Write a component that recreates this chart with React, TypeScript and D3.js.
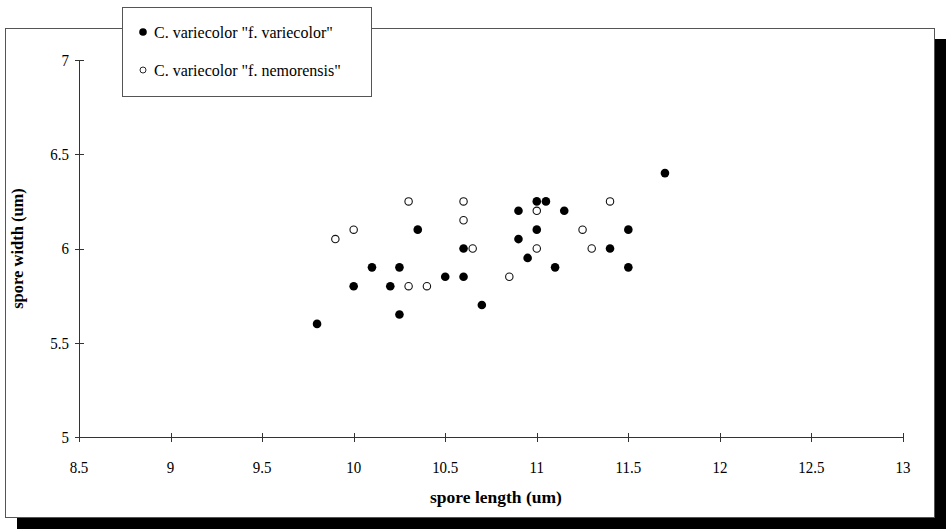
import React from "react";
import * as d3 from "d3";

const seriesNames = ['C. variecolor "f. variecolor"', 'C. variecolor "f. nemorensis"'];

const variecolorLength = [9.8, 10.0, 10.1, 10.2, 10.25, 10.25, 10.35, 10.5, 10.6, 10.6, 10.7, 10.9, 10.9, 10.95, 11.0, 11.0, 11.05, 11.1, 11.15, 11.4, 11.5, 11.5, 11.7];
const variecolorWidth = [5.6, 5.8, 5.9, 5.8, 5.9, 5.65, 6.1, 5.85, 6.0, 5.85, 5.7, 6.2, 6.05, 5.95, 6.25, 6.1, 6.25, 5.9, 6.2, 6.0, 6.1, 5.9, 6.4];

const nemorensisLength = [9.9, 10.0, 10.3, 10.3, 10.4, 10.6, 10.6, 10.65, 10.85, 11.0, 11.0, 11.25, 11.3, 11.4];
const nemorensisWidth = [6.05, 6.1, 6.25, 5.8, 5.8, 6.25, 6.15, 6.0, 5.85, 6.2, 6.0, 6.1, 6.0, 6.25];

const xTicks = [8.5, 9, 9.5, 10, 10.5, 11, 11.5, 12, 12.5, 13];
const yTicks = [5, 5.5, 6, 6.5, 7];

const xTitle = "spore length (um)";
const yTitle = "spore width (um)";

export default function App() {
  const W = 946;
  const H = 529;
  const x = d3.scaleLinear().domain([8.5, 13]).range([79, 903]);
  const y = d3.scaleLinear().domain([5, 7]).range([437, 60]);
  const fmt = (v: number) => d3.format("~g")(v);
  const serif = "'Liberation Serif', 'Times New Roman', serif";
  const axisColor = "#333";
  const txt = "#000";

  const filled = variecolorLength.map((l, i) => ({ l, w: variecolorWidth[i] }));
  const open = nemorensisLength.map((l, i) => ({ l, w: nemorensisWidth[i] }));

  return (
    <svg
      width={W}
      height={H}
      style={{ position: "absolute", left: 0, top: 0, background: "#fff" }}
      fontFamily={serif}
    >
      {/* drop shadow + frame */}
      <rect x={17} y={39} width={929} height={490} fill="#000" />
      <rect x={5.5} y={28.5} width={929} height={489} fill="#fff" stroke="#555" strokeWidth={1} />

      {/* y axis */}
      <line x1={79.5} x2={79.5} y1={y(7)} y2={y(5)} stroke={axisColor} strokeWidth={1} />
      {yTicks.map((t) => (
        <g key={"y" + t}>
          <line x1={75} x2={84} y1={Math.round(y(t)) + 0.5} y2={Math.round(y(t)) + 0.5} stroke={axisColor} strokeWidth={1} />
          <g transform={`translate(69, ${y(t)}) scale(0.88, 1)`}>
            <text dy="0.35em" textAnchor="end" fontSize={17} fill={txt}>
              {fmt(t)}
            </text>
          </g>
        </g>
      ))}

      {/* x axis */}
      <line x1={x(8.5)} x2={x(13)} y1={437.5} y2={437.5} stroke={axisColor} strokeWidth={1} />
      {xTicks.map((t) => (
        <g key={"x" + t}>
          <line x1={Math.round(x(t)) + 0.5} x2={Math.round(x(t)) + 0.5} y1={433} y2={442} stroke={axisColor} strokeWidth={1} />
          <g transform={`translate(${x(t)}, 473) scale(0.88, 1)`}>
            <text textAnchor="middle" fontSize={17} fill={txt}>
              {fmt(t)}
            </text>
          </g>
        </g>
      ))}

      {/* axis titles */}
      <text x={496} y={503} textAnchor="middle" fontSize={17.5} fontWeight="bold" fill={txt}>
        {xTitle}
      </text>
      <text
        transform={`translate(23, ${y(6)}) rotate(-90)`}
        textAnchor="middle"
        fontSize={16.5}
        fontWeight="bold"
        fill={txt}
      >
        {yTitle}
      </text>

      {/* points */}
      {open.map((p, i) => (
        <circle key={"o" + i} cx={x(p.l)} cy={y(p.w)} r={3.7} fill="#fff" stroke="#111" strokeWidth={1.1} />
      ))}
      {filled.map((p, i) => (
        <circle key={"f" + i} cx={x(p.l)} cy={y(p.w)} r={4.3} fill="#000" />
      ))}

      {/* legend */}
      <rect x={122.5} y={7.5} width={249} height={89} fill="#fff" stroke="#555" strokeWidth={1} />
      <circle cx={143} cy={32} r={3.8} fill="#000" />
      <text x={154} y={32} dy="0.35em" fontSize={16} fill={txt}>
        {seriesNames[0]}
      </text>
      <circle cx={143} cy={70} r={3} fill="#fff" stroke="#111" strokeWidth={0.9} />
      <text x={154} y={70} dy="0.35em" fontSize={16} fill={txt}>
        {seriesNames[1]}
      </text>
    </svg>
  );
}
